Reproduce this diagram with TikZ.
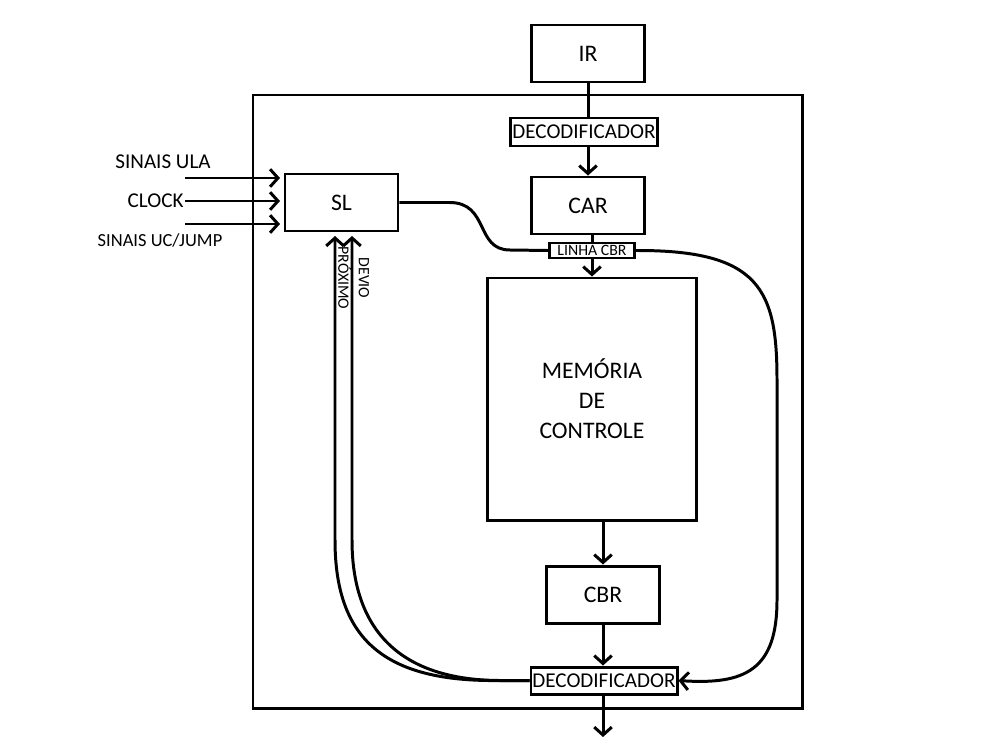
\documentclass[tikz,border=0pt]{standalone}
\usepackage{fontspec}
\setmainfont{Carlito}
\usetikzlibrary{arrows.meta}

\tikzset{
  blk/.style={draw, minimum width=22.6mm, minimum height=11.4mm, inner sep=0pt, font=\fontsize{13.5}{16}\selectfont},
  dec/.style={draw, minimum width=29.4mm, minimum height=5.6mm, inner sep=0pt, font=\fontsize{12}{14}\selectfont},
  arr/.style={-{Straight Barb[length=4.5pt,width=10pt]}},
  lbl/.style={font=\fontsize{12}{14}\selectfont, inner sep=0pt},
  vlbl/.style={font=\fontsize{9}{10}\selectfont, inner sep=0pt, rotate=-90},
}

\begin{document}
\begin{tikzpicture}[x=0.2mm, y=-0.2mm, line width=1.7pt]
\useasboundingbox (0,0) rectangle (1000,750);
\draw (253,95) rectangle (802,708);

\node [blk] (IR) at (588,53.5) {IR};
\node [dec] (decT) at (584,132) {DECODIFICADOR};
\node [blk] (CAR) at (588,205.5) {CAR};
\node [draw, minimum width=17mm, minimum height=3mm, inner sep=0pt, font=\fontsize{9}{10}\selectfont] (linha) at (592,250.5) {LINHA CBR};
\node [blk, minimum width=41.8mm, minimum height=48.4mm, align=center, font=\fontsize{13.5}{17}\selectfont] (mem) at (592,399) {MEMÓRIA\\DE\\CONTROLE};
\node [blk] (CBR) at (603,594.5) {CBR};
\node [dec, minimum width=29.2mm, minimum height=5.4mm] (decB) at (604,680.5) {DECODIFICADOR};
\node [blk] (SL) at (341.5,202.5) {SL};

\draw (IR.south) -- (IR.south |- decT.north);
\draw [arr] (decT.south -| CAR.north) -- (CAR.north);
\draw (CAR.south -| linha.north) -- (linha.north);
\draw [arr] (linha.south) -- (mem.north -| linha.south);
\draw [arr] (mem.south -| CBR.south) -- (CBR.north);
\draw [arr] (CBR.south) -- (decB.north -| CBR.south);
\coordinate (saida) at (603,737);
\draw [arr] (decB.south -| saida) -- (saida);

% entradas do SL
\node [lbl] (ula) at (163,162) {SINAIS ULA};
\node [lbl, anchor=east] (clock) at (185,201) {CLOCK};
\node [lbl, font=\fontsize{10.5}{12}\selectfont] (jump) at (160,240) {SINAIS UC/JUMP};
\coordinate (inUla) at (185,178);
\coordinate (inJump) at (185,224);
\draw [arr] (inUla) -- ([xshift=-2pt]inUla -| SL.west);
\draw [arr] (clock.east) -- ([xshift=-2pt]clock.east -| SL.west);
\draw [arr] (inJump) -- ([xshift=-2pt]inJump -| SL.west);

\draw (SL.east) -- ++(50,0) .. controls +(40,0) and +(-35,0) .. (510,250) -- (linha.west);
\draw [arr] (linha.east) .. controls (760,250) and (777,290) .. (777,380) -- (777,600) .. controls (777,670) and (745,685) .. (decB.east);

\coordinate (prox) at (335,540);
\coordinate (devio) at (352,540);
\draw [arr] (decB.west) -- ++(-30,0) .. controls (385,682) and (335,640) .. (prox) -- ([yshift=-2pt]prox |- SL.south);
\draw [arr] (decB.west) -- ++(-30,0) .. controls (400,680) and (352,630) .. (devio) -- ([yshift=-2pt]devio |- SL.south);
\node [vlbl] (lprox) at (345,278) {PRÓXIMO};
\node [vlbl] (ldevio) at (364,278) {DEVIO};
\end{tikzpicture}
\end{document}
